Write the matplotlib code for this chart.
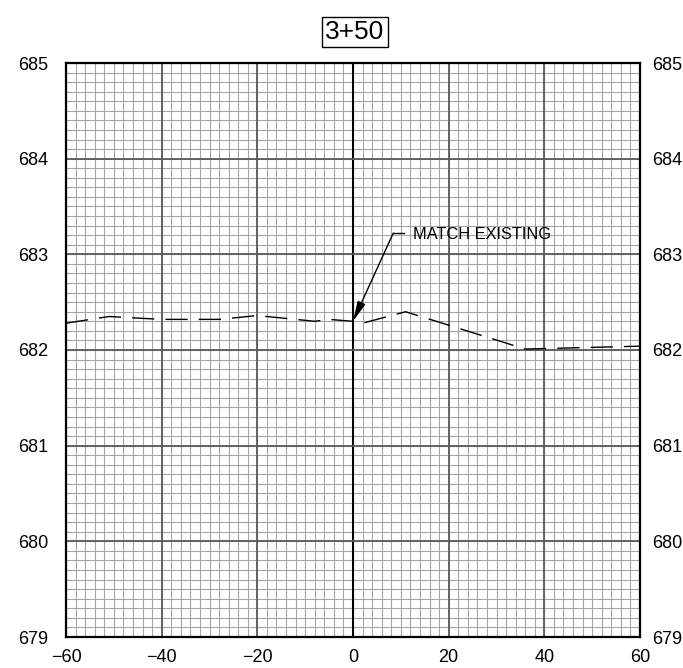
import matplotlib
matplotlib.use("Agg")
import matplotlib.pyplot as plt
import numpy as np

# Data
station = "3+50"
offset = [-60, -51, -40, -28, -20, -8, -5, 0, 2, 11, 36, 60]
elev = [682.28, 682.35, 682.32, 682.32, 682.36, 682.30, 682.32, 682.30, 682.28, 682.40, 682.01, 682.04]
x_ticks = [-60, -40, -20, 0, 20, 40, 60]
y_ticks = [679, 680, 681, 682, 683, 684, 685]
note = "MATCH EXISTING"
note_target = (0, 682.30)

plt.rcParams['font.family'] = ['Liberation Sans', 'DejaVu Sans']

W, H = 683, 668
fig = plt.figure(figsize=(W / 100, H / 100), dpi=100)
ax = fig.add_axes([66 / W, (H - 637) / H, (640 - 66) / W, (637 - 63) / H])
ax.set_xlim(-60, 60)
ax.set_ylim(679, 685)

# Grid
for xv in np.arange(-60, 61, 2):
    ax.axvline(xv, color="#a4a4a4", lw=0.8, zorder=1)
for yv in np.arange(679, 685.001, 0.1):
    ax.axhline(yv, color="#a4a4a4", lw=0.8, zorder=1)
for xv in x_ticks[1:-1]:
    ax.axvline(xv, color="black" if xv == 0 else "#5a5a5a", lw=1.5 if xv == 0 else 1.3, zorder=2)
for yv in y_ticks[1:-1]:
    ax.axhline(yv, color="#5a5a5a", lw=1.3, zorder=2)

# Profile
ax.plot(offset, elev, color="black", lw=1.0, linestyle=(0, (16, 8)), zorder=3)

# Annotation
ax.plot([8.4, 10.7], [683.22, 683.22], color="black", lw=1.0, zorder=4)
ax.annotate("", xy=note_target, xytext=(8.4, 683.22),
            arrowprops=dict(arrowstyle="-|>,head_length=1.2,head_width=0.25",
                            color="black", lw=1.0, shrinkA=0, shrinkB=0), zorder=4)
ax.text(12.5, 683.16, note, fontsize=11.8, ha="left", va="baseline", zorder=4)

# Ticks
ax.set_xticks(x_ticks)
ax.set_yticks(y_ticks)
ax.tick_params(length=0, labelsize=13)
ax.tick_params(axis="x", pad=9)
ax.tick_params(axis="y", pad=13)
for s in ax.spines.values():
    s.set_linewidth(1.6)
    s.set_color("black")
    s.set_zorder(5)

axr = ax.twinx()
axr.set_ylim(679, 685)
axr.set_yticks(y_ticks)
axr.tick_params(length=0, labelsize=13, pad=9)
for s in axr.spines.values():
    s.set_visible(False)

# Title box
fig.text(355 / W, 1 - 32 / H, station, fontsize=19, ha="center", va="center",
         bbox=dict(boxstyle="square,pad=0.12", fc="white", ec="black", lw=1.0))

fig.savefig("out.png", dpi=100)
